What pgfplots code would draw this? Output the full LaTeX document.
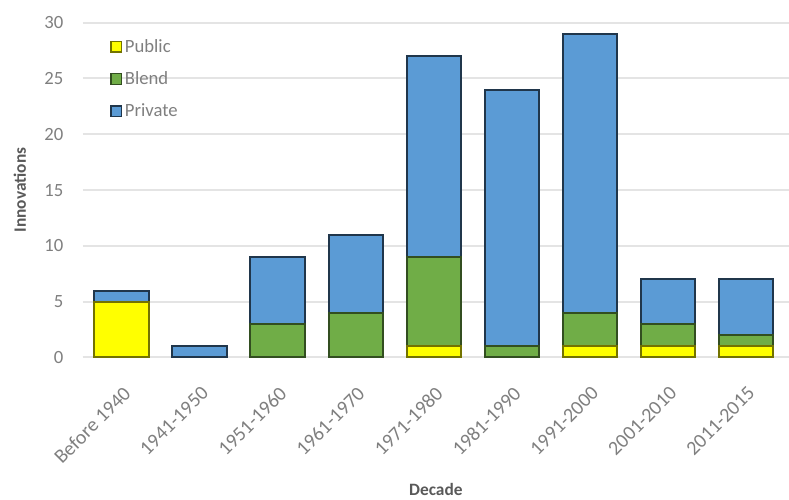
\documentclass[border=0pt]{standalone}
\usepackage{pgfplots}
\pgfplotsset{compat=1.18}
\usepackage{fontspec}
\setmainfont{Carlito}
\definecolor{pub}{HTML}{FFFF00}
\definecolor{blendc}{HTML}{70AD47}
\definecolor{privc}{HTML}{5B9BD5}
\definecolor{txtc}{HTML}{7F7F7F}
\definecolor{gridc}{HTML}{E4E4E4}
\begin{document}
\begin{tikzpicture}
\useasboundingbox (-62pt,-106.5pt) rectangle (529.5pt,268pt);
\begin{axis}[
  at={(0,0)}, anchor=south west,
  scale only axis,
  width=529.5pt, height=251pt,
  ybar stacked,
  bar width=41pt,
  xmin=-0.5, xmax=8.55,
  ymin=0, ymax=30,
  ytick={0,5,...,30},
  xtick=data,
  xticklabels={Before 1940,1941-1950,1951-1960,1961-1970,1971-1980,1981-1990,1991-2000,2001-2010,2011-2015},
  x tick label style={rotate=45, anchor=north east, font=\fontsize{15}{17}\selectfont, text=txtc, yshift=-11.5pt, xshift=-11pt},
  y tick label style={font=\fontsize{14}{16}\selectfont, text=txtc, xshift=-11pt},
  /pgf/number format/assume math mode=true,
  ymajorgrids, grid style={draw=gridc, line width=1.5pt},
  axis line style={draw=none},
  axis x line*=bottom,
  x axis line style={draw=gridc, line width=1.5pt},
  major tick length=0pt,
  every axis y label/.style={at={(axis description cs:-0.089,0.5)}, rotate=90, anchor=center},
  every axis x label/.style={at={(axis description cs:0.5,-0.394)}, anchor=center},
  ylabel={\textbf{Innovations}},
  xlabel={\textbf{Decade}},
  label style={text=black!65, font=\fontsize{13}{15}\selectfont},
  legend style={draw=none, fill=none, at={(0.033,0.967)}, anchor=north west, font=\fontsize{14}{16}\selectfont, text=txtc, row sep=9pt},
  legend cell align=left,
  legend image code/.code={\draw[#1, line width=1pt] (0pt,-4pt) rectangle (8pt,4pt);},
]
\addplot[fill=pub, draw=pub!45!black, line width=1.5pt] coordinates {(0,5) (1,0) (2,0) (3,0) (4,1) (5,0) (6,1) (7,1) (8,1)};
\addplot[fill=blendc, draw=blendc!45!black, line width=1.5pt] coordinates {(0,0) (1,0) (2,3) (3,4) (4,8) (5,1) (6,3) (7,2) (8,1)};
\addplot[fill=privc, draw=privc!35!black, line width=1.5pt] coordinates {(0,1) (1,1) (2,6) (3,7) (4,18) (5,23) (6,25) (7,4) (8,5)};
\legend{Public,Blend,Private}
\end{axis}
\end{tikzpicture}
\end{document}
